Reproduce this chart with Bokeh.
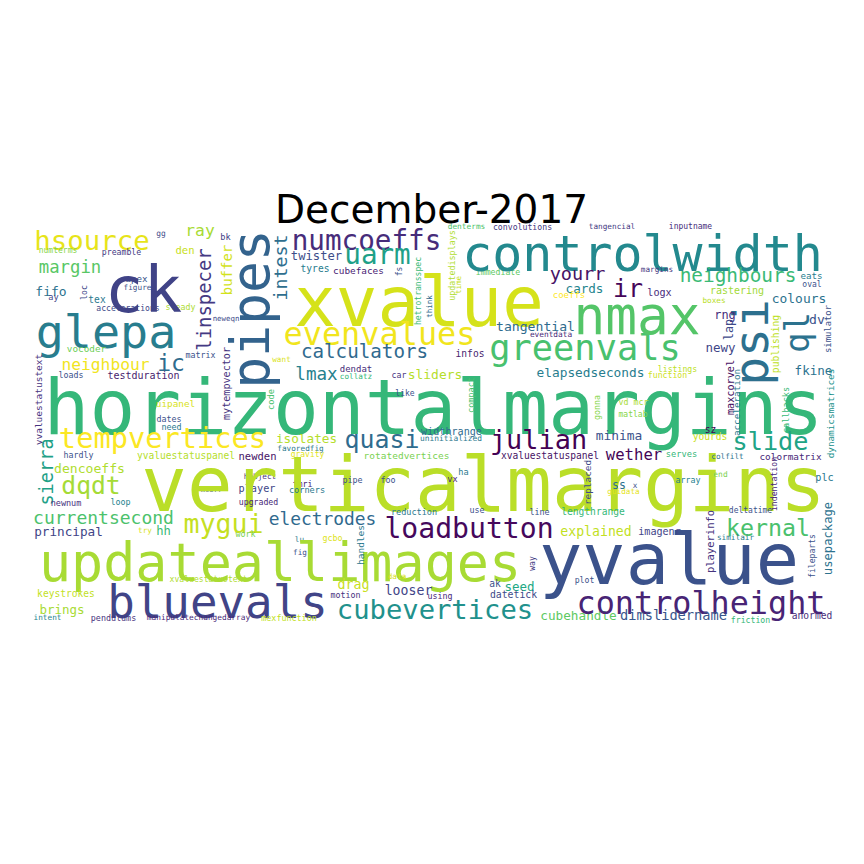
import math
from bokeh.plotting import figure
from bokeh.models import ColumnDataSource, Range1d
from bokeh.core.properties import value
from bokeh.embed import file_html
from bokeh.resources import INLINE

TITLE = "December-2017"

# word, orientation (h/v), x (page px), y (page px), size (px), colour
# horizontal words: x = centre, y = baseline ; vertical words: x = baseline, y = centre
WORDS = [
    ("hsource", "h", 99.5, 254, 28.5, "#e7e419"),
    ("ray", "h", 207.5, 242, 17, "#a8db34"),
    ("gg", "h", 168.5, 243, 8.2, "#3e4a89"),
    ("bk", "h", 233, 246, 9, "#424086"),
    ("numterms", "h", 65.5, 260, 8.3, "#86d549"),
    ("preamble", "h", 129, 261, 8.5, "#443a83"),
    ("den", "h", 192.5, 260, 11, "#c8e020"),
    ("margin", "h", 77.5, 278, 18, "#58c765"),
    ("apex", "h", 144, 288, 9.6, "#39558c"),
    ("figure", "h", 145, 297, 8, "#3b528b"),
    ("fifo", "h", 58.5, 302, 13.5, "#2c728e"),
    ("loc", "v", 93, 300, 8.2, "#3e4989"),
    ("tex", "h", 104.5, 309, 10, "#2a788e"),
    ("ay", "h", 61, 306, 9, "#414487"),
    ("accelerations", "h", 135.5, 317, 8.4, "#3e4a89"),
    ("steady", "h", 188, 316, 8.6, "#addc30"),
    ("neweqn", "h", 233.5, 328, 7.7, "#3e4989"),
    ("ck", "h", 151, 312, 67, "#404387"),
    ("glepa", "h", 113.5, 350, 48.6, "#287d8e"),
    ("linspecer", "v", 216, 307, 18.9, "#443983"),
    ("buffer", "v", 238, 277.5, 14, "#d2e21b"),
    ("pipes", "v", 270, 316.5, 53, "#33638d"),
    ("intest", "v", 292, 275, 18.3, "#2e6e8e"),
    ("matrix", "h", 208, 364, 8.6, "#3b528b"),
    ("vocoder", "h", 94, 358, 9.8, "#6ece58"),
    ("numcoeffs", "h", 374, 254, 28.7, "#472c7a"),
    ("twister", "h", 324, 266, 12.7, "#3d4e8a"),
    ("uarm", "h", 385, 268, 28.7, "#1fa088"),
    ("tyres", "h", 322.5, 278, 10, "#287c8e"),
    ("cubefaces", "h", 366, 280, 9.8, "#482173"),
    ("fs", "v", 409, 279, 8, "#3b528b"),
    ("denterms", "h", 474, 236, 8.1, "#4ec36b"),
    ("convolutions", "h", 530, 236, 8.5, "#453781"),
    ("hetrotransspec", "v", 427, 298.5, 8.1, "#3aba76"),
    ("updatedisplays", "v", 461, 273, 8.4, "#b0dd2f"),
    ("think", "v", 439, 314, 7.5, "#31688e"),
    ("time", "v", 468, 292.5, 7.5, "#c5e021"),
    ("immediate", "h", 505.5, 281, 8.5, "#5ec962"),
    ("controlwidth", "h", 650, 273, 52, "#23898e"),
    ("xvalue", "h", 426.5, 325, 72, "#d5e21a"),
    ("evenvalues", "h", 387, 349, 33.2, "#f1e51d"),
    ("tangential", "h", 543, 337, 13.6, "#2f6b8e"),
    ("eventdata", "h", 558.5, 344, 8.1, "#482878"),
    ("calculators", "h", 372, 363, 20, "#306a8e"),
    ("infos", "h", 477.5, 363, 10, "#481f70"),
    ("greenvals", "h", 592.5, 363, 36.8, "#48c16e"),
    ("yourr", "h", 585, 285, 19.3, "#471365"),
    ("ir", "h", 635.5, 302, 26, "#450559"),
    ("tangencial", "h", 619.5, 236, 8, "#443983"),
    ("inputname", "h", 698, 236, 8.3, "#472d7b"),
    ("margins", "h", 664.5, 279, 8, "#453882"),
    ("neighbours", "h", 745.5, 287, 20.2, "#3aba76"),
    ("eats", "h", 819, 285, 9.6, "#287d8e"),
    ("oval", "h", 819.5, 294, 8.3, "#3b528b"),
    ("cards", "h", 592, 299, 13.1, "#25858e"),
    ("logx", "h", 667, 302, 10.5, "#472a7a"),
    ("rastering", "h", 744.5, 300, 10.4, "#a2da37"),
    ("coeffs", "h", 576.5, 305, 9.4, "#fde725"),
    ("boxes", "h", 721.5, 310, 8, "#b8de29"),
    ("colours", "h", 806.5, 309, 13.4, "#2c728e"),
    ("nmax", "h", 644.5, 335, 55, "#54c568"),
    ("psi", "v", 770, 350, 48, "#2d708e"),
    ("rng", "h", 732.5, 325, 12.4, "#472d7b"),
    ("lap", "v", 739, 337, 11.8, "#3e4a89"),
    ("dv", "h", 824.5, 330, 13.6, "#3b528b"),
    ("ql", "v", 812, 340, 34, "#2c728e"),
    ("simulator", "v", 838, 336.5, 8.9, "#3b528b"),
    ("publishing", "v", 785, 351.5, 9.7, "#bddf26"),
    ("newy", "h", 728, 358, 13, "#3f4788"),
    ("neighbour", "h", 113, 376, 17, "#f1e51d"),
    ("ic", "h", 178.5, 376, 24, "#2f6c8e"),
    ("want", "h", 289, 369, 8, "#dae319"),
    ("mytempvector", "v", 236, 391, 10.1, "#46337e"),
    ("loads", "h", 78.5, 384, 8.6, "#3b528b"),
    ("testduration", "h", 151, 385, 10.4, "#481c6e"),
    ("horizontalmargins", "h", 441, 433, 79.4, "#35b779"),
    ("lmax", "h", 324, 386, 18.3, "#26818e"),
    ("uipanel", "h", 183, 413, 9.8, "#d8e219"),
    ("code", "v", 281, 407, 8.7, "#4ac16d"),
    ("dates", "h", 176.5, 428, 8.6, "#3b528b"),
    ("need", "h", 179, 436, 8.7, "#2a788e"),
    ("yvaluestatustext", "v", 48, 407, 9.5, "#46327e"),
    ("tempvertices", "h", 170, 452, 29.9, "#fbe723"),
    ("isolates", "h", 314, 449, 13.2, "#b5de2b"),
    ("favoredfig", "h", 308, 458, 8, "#2a788e"),
    ("sierra", "v", 58, 479.5, 18.6, "#1fa187"),
    ("hardly", "h", 86, 464, 8.6, "#3b528b"),
    ("yvaluestatuspanel", "h", 193.5, 465, 10, "#b5de2b"),
    ("newden", "h", 265, 466, 10.9, "#481467"),
    ("gravity", "h", 315, 464, 8.3, "#e2e418"),
    ("dencoeffs", "h", 97, 479, 13.6, "#b0dd2f"),
    ("dqdt", "h", 98.5, 499, 25.7, "#a5db36"),
    ("hobject", "h", 267.5, 486, 8, "#46327e"),
    ("xcorr", "h", 219, 499, 7.5, "#3b528b"),
    ("player", "h", 264.5, 498, 10.6, "#404688"),
    ("fmri", "h", 310, 493, 8.7, "#482677"),
    ("verticalmargins", "h", 491, 510, 79, "#bade28"),
    ("dendat", "h", 363.5, 379, 9.4, "#472d7b"),
    ("collatz", "h", 363.5, 386, 8, "#35b779"),
    ("car", "h", 406.5, 384, 8.5, "#463480"),
    ("sliders", "h", 442.5, 385, 13.4, "#b5de2b"),
    ("elapsedseconds", "h", 598, 383, 13.3, "#287d8e"),
    ("like", "h", 412.5, 403, 8.3, "#3b528b"),
    ("compact", "v", 480, 402.5, 8.5, "#4ac16d"),
    ("widthrange", "h", 459, 441, 10.5, "#2f6b8e"),
    ("uninitialized", "h", 458.5, 448, 8.2, "#2a788e"),
    ("quasi", "h", 389.5, 453, 25.9, "#2f6c8e"),
    ("julian", "h", 546, 453, 28, "#440154"),
    ("rotatedvertices", "h", 414, 465, 9.9, "#7ad151"),
    ("xvaluestatuspanel", "h", 557.5, 465, 10, "#471365"),
    ("ha", "h", 471, 481, 9, "#2a788e"),
    ("pipe", "h", 360, 489, 8.7, "#3b528b"),
    ("foo", "h", 395.5, 489, 8.8, "#3b528b"),
    ("vx", "h", 460, 488, 9, "#482878"),
    ("corners", "h", 314.5, 499, 9, "#2a788e"),
    ("listings", "h", 685, 378, 8.5, "#bddf26"),
    ("function", "h", 675, 384, 8.5, "#d0e11c"),
    ("fkine", "h", 821, 381, 13.1, "#2c728e"),
    ("maxcorvel", "v", 740, 395, 10.2, "#471063"),
    ("vd mcr", "h", 641, 411, 8.6, "#a8db34"),
    ("gonna", "v", 606, 415, 8.3, "#86d549"),
    ("matlab", "h", 640.5, 424, 8.3, "#86d549"),
    ("acceleration", "v", 746, 410, 9.3, "#2a788e"),
    ("callbacks", "v", 795, 417.5, 8.5, "#3aba76"),
    ("dynamicsmatrices", "v", 840, 421, 9.3, "#21918c"),
    ("minima", "h", 626.5, 446, 13.4, "#3b528b"),
    ("sz", "h", 718, 439, 10, "#440154"),
    ("yourds", "h", 717.5, 446, 10, "#c8e020"),
    ("slide", "h", 778, 455, 26.2, "#20a486"),
    ("wether", "h", 641.5, 466, 16.3, "#450457"),
    ("serves", "h", 689, 464, 9.1, "#35b779"),
    ("colfilt", "h", 735, 466, 8, "#2c728e"),
    ("colormatrix", "h", 798, 466, 9.8, "#482878"),
    ("indentation", "v", 783, 491.5, 8.2, "#482878"),
    ("replaced", "v", 597, 490, 9.4, "#3e4a89"),
    ("array", "h", 695.5, 489, 8.6, "#26818e"),
    ("end", "h", 728, 484, 8.2, "#7ad151"),
    ("plc", "h", 832, 487, 10.6, "#2a788e"),
    ("ss", "h", 626.5, 495, 12, "#2c728e"),
    ("x", "h", 642.5, 495, 8, "#3b528b"),
    ("guidata", "h", 631, 501, 8, "#e5e419"),
    ("newnum", "h", 73.5, 512, 8.9, "#46327e"),
    ("loop", "h", 128, 511, 8.7, "#25848e"),
    ("upgraded", "h", 266, 511, 8.5, "#482878"),
    ("currentsecond", "h", 111, 529, 18.7, "#4cc26c"),
    ("mygui", "h", 231, 537, 27.6, "#c5e021"),
    ("electrodes", "h", 330, 530, 18.6, "#306a8e"),
    ("principal", "h", 76, 542, 13.2, "#414487"),
    ("hh", "h", 171, 541, 12.7, "#3aba76"),
    ("try", "h", 152.5, 540, 8, "#d8e219"),
    ("work", "h", 253, 543, 8.7, "#7ad151"),
    ("lu", "h", 307, 549, 8, "#2a788e"),
    ("fig", "h", 307.5, 562, 8, "#3b528b"),
    ("updateallimages", "h", 287.5, 582, 55.6, "#a8db34"),
    ("bluevals", "h", 225, 620, 47.7, "#414487"),
    ("xvaluestatustext", "h", 216, 588, 8.4, "#b0dd2f"),
    ("keystrokes", "h", 73.5, 603, 10, "#c2df23"),
    ("brings", "h", 69.5, 620, 13, "#a8db34"),
    ("intent", "h", 55, 627, 8, "#25848e"),
    ("pendulums", "h", 121, 627, 8.7, "#46327e"),
    ("manipulatechangedarray", "h", 206, 627, 8.1, "#482878"),
    ("mexfunction", "h", 296.5, 627, 8.8, "#c2df23"),
    ("reduction", "h", 421.5, 521, 8.9, "#2a788e"),
    ("use", "h", 484.5, 519, 8.8, "#3b528b"),
    ("line", "h", 547, 521, 8.7, "#3b528b"),
    ("lengthrange", "h", 600.5, 521, 10, "#35b779"),
    ("loadbutton", "h", 476.5, 542, 29.3, "#46085c"),
    ("explained", "h", 603.5, 542, 13.8, "#c2df23"),
    ("gcbo", "h", 340, 547, 8.7, "#dde318"),
    ("handles", "v", 370, 552.5, 9.5, "#2a788e"),
    ("way", "v", 542, 571, 8, "#443983"),
    ("data", "h", 404.5, 586, 8, "#d8e219"),
    ("drag", "h", 361, 595, 13.9, "#c8e020"),
    ("looser", "h", 416, 601, 13.7, "#414487"),
    ("using", "h", 447.5, 605, 8.6, "#482878"),
    ("motion", "h", 353, 604, 8.6, "#46327e"),
    ("ak", "h", 502.5, 593, 10, "#3b528b"),
    ("seed", "h", 527, 597, 13, "#22a884"),
    ("datetick", "h", 521, 604, 10.2, "#3e4a89"),
    ("cubevertices", "h", 442.5, 623, 28.3, "#21918c"),
    ("cubehandle", "h", 586, 626, 13.2, "#5ec962"),
    ("yvalue", "h", 676.5, 583, 75, "#3b528b"),
    ("deltatime", "h", 758, 520, 8.3, "#3b528b"),
    ("kernal", "h", 775.5, 540, 24.3, "#4ac16d"),
    ("imagenr", "h", 667, 541, 10.5, "#414487"),
    ("similair", "h", 743, 547, 8, "#2a788e"),
    ("playerinfo", "v", 720, 549, 10.5, "#46337e"),
    ("usepackage", "v", 838, 546, 12.2, "#2c728e"),
    ("fileparts", "v", 821, 563.5, 8.1, "#3b528b"),
    ("plot", "h", 592, 589, 8.5, "#3b528b"),
    ("controlheight", "h", 708.5, 617, 33.1, "#482475"),
    ("dimslidername", "h", 681, 626, 14.3, "#39568c"),
    ("friction", "h", 758, 629, 8.5, "#35b779"),
    ("anormed", "h", 819.5, 625, 10, "#472d7b"),
]

words = [w[0] for w in WORDS]
orient = [w[1] for w in WORDS]
px = [w[2] for w in WORDS]
py = [w[3] for w in WORDS]
size = [w[4] for w in WORDS]
colour = [w[5] for w in WORDS]

# Bokeh places the alphabetic baseline about 0.23 em below the anchor
SHIFT = 0.23
SCALE = 0.96
xs, ys, fss, angles = [], [], [], []
for o, x, y, s in zip(orient, px, py, size):
    f = s * SCALE if o == "h" else s
    if o == "v":
        xs.append(x - SHIFT * f)
        ys.append(-y)
        angles.append(math.pi / 2)
    else:
        xs.append(x)
        ys.append(-(y - SHIFT * f))
        angles.append(0.0)
    fss.append("%.1fpx" % f)

src = ColumnDataSource(dict(text=words, x=xs, y=ys, angle=angles, fs=fss, color=colour))

W = H = 848
p = figure(width=W, height=H, output_backend="svg", toolbar_location=None,
           x_range=Range1d(8, 8 + W), y_range=Range1d(-(8 + H), -8),
           min_border=0, outline_line_color=None, background_fill_color="white",
           border_fill_color="white")
p.xaxis.visible = False
p.yaxis.visible = False
p.grid.visible = False

p.text(x="x", y="y", text="text", angle="angle", source=src,
       text_font=value("DejaVu Sans Mono"), text_font_size="fs",
       text_color="color", text_align="center", text_baseline="alphabetic")

TITLE_SIZE = 39
p.text(x=[439], y=[-(226 - SHIFT * TITLE_SIZE)], text=[TITLE], text_font=value("DejaVu Sans"),
       text_font_size="%dpx" % TITLE_SIZE, text_color="black", text_align="center",
       text_baseline="alphabetic")

open("out.html", "w").write(file_html(p, INLINE))
